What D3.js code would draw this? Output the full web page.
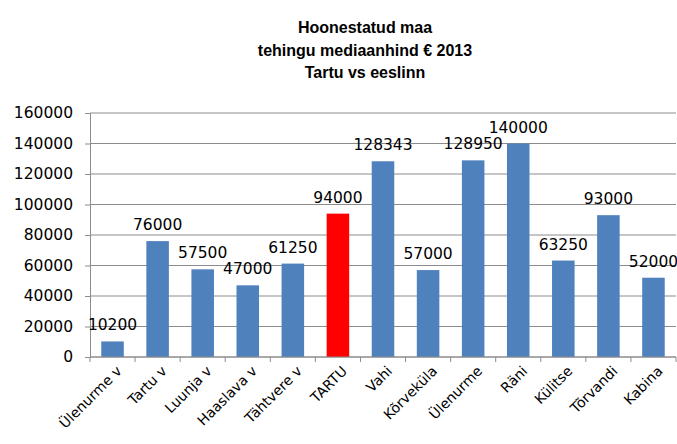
<!DOCTYPE html>
<html>
<head>
<meta charset="utf-8">
<script src="https://cdn.jsdelivr.net/npm/d3@7"></script>
<style>
	body { margin: 0; background: #fff; }
	svg text { font-family: "DejaVu Sans", Verdana, sans-serif; }
</style>
</head>
<body>
<svg width="677" height="444"></svg>
<script>
var data = [
	{name: "Ülenurme v", value: 10200},
	{name: "Tartu v", value: 76000},
	{name: "Luunja v", value: 57500},
	{name: "Haaslava v", value: 47000},
	{name: "Tähtvere v", value: 61250},
	{name: "TARTU", value: 94000},
	{name: "Vahi", value: 128343},
	{name: "Kõrveküla", value: 57000},
	{name: "Ülenurme", value: 128950},
	{name: "Räni", value: 140000},
	{name: "Külitse", value: 63250},
	{name: "Tõrvandi", value: 93000},
	{name: "Kabina", value: 52000}
];

var svg = d3.select("svg"),
	margin = {top: 113, right: 1, bottom: 87, left: 90},
	width = +svg.attr("width") - margin.left - margin.right,
	height = +svg.attr("height") - margin.top - margin.bottom,
	g = svg.append("g").attr("transform", "translate(" + margin.left + "," + margin.top + ")");

// title
var title = ["Hoonestatud maa", "tehingu mediaanhind € 2013", "Tartu vs eeslinn"];
svg.append("g").selectAll("text")
	.data(title)
	.enter().append("text")
	.attr("x", 365)
	.attr("y", function(d, i) { return 33 + i * 22.5; })
	.attr("text-anchor", "middle")
	.style("font-family", "'Liberation Sans', Arial, sans-serif")
	.style("font-weight", "bold")
	.style("font-size", "16px")
	.attr("fill", "#000")
	.text(function(d) { return d; });

var x = d3.scaleBand()
	.domain(data.map(function(d) { return d.name; }))
	.range([0, width])
	.paddingInner(0.5)
	.paddingOuter(0.25);

var y = d3.scaleLinear().domain([0, 160000]).range([height, 0]);

// gridlines
g.append("g")
	.selectAll("line")
	.data(y.ticks(8))
	.enter().append("line")
	.attr("x1", 0)
	.attr("x2", width)
	.attr("y1", function(d) { return y(d); })
	.attr("y2", function(d) { return y(d); })
	.attr("stroke", "#8c8c8c")
	.attr("stroke-width", 1);

// y axis
var yAxis = g.append("g")
	.call(d3.axisLeft(y).ticks(8).tickFormat(d3.format("d")).tickSize(5).tickPadding(12));
yAxis.select(".domain").attr("stroke", "#8c8c8c");
yAxis.selectAll(".tick line").attr("stroke", "#8c8c8c");
yAxis.selectAll("text").style("font-size", "15.5px").attr("fill", "#000");

// bars
g.selectAll(".bar")
	.data(data)
	.enter().append("rect")
	.attr("class", "bar")
	.attr("x", function(d) { return x(d.name); })
	.attr("y", function(d) { return y(d.value); })
	.attr("width", x.bandwidth())
	.attr("height", function(d) { return height - y(d.value); })
	.attr("fill", function(d) { return d.name == "TARTU" ? "#ff0000" : "#4f81bd"; });

// value labels
g.selectAll(".lbl")
	.data(data)
	.enter().append("text")
	.attr("class", "lbl")
	.attr("x", function(d) { return x(d.name) + x.bandwidth() / 2; })
	.attr("y", function(d) { return y(d.value) - 11; })
	.attr("text-anchor", "middle")
	.style("font-size", "15.5px")
	.attr("fill", "#000")
	.text(function(d) { return d.value; });

// x axis
var step = x.step();
var xAxis = g.append("g").attr("transform", "translate(0," + height + ")");
xAxis.append("line")
	.attr("x1", 0).attr("x2", width)
	.attr("stroke", "#8c8c8c");
xAxis.selectAll(".tk")
	.data(d3.range(data.length + 1))
	.enter().append("line")
	.attr("class", "tk")
	.attr("x1", function(i) { return i * step; })
	.attr("x2", function(i) { return i * step; })
	.attr("y1", 0).attr("y2", 5)
	.attr("stroke", "#8c8c8c");
xAxis.selectAll(".xl")
	.data(data)
	.enter().append("text")
	.attr("class", "xl")
	.attr("text-anchor", "end")
	.attr("transform", function(d) {
		return "translate(" + (x(d.name) + x.bandwidth() / 2 + 10) + ",15) rotate(-45)";
	})
	.style("font-size", "14px")
	.attr("fill", "#000")
	.text(function(d) { return d.name; });
</script>
</body>
</html>
